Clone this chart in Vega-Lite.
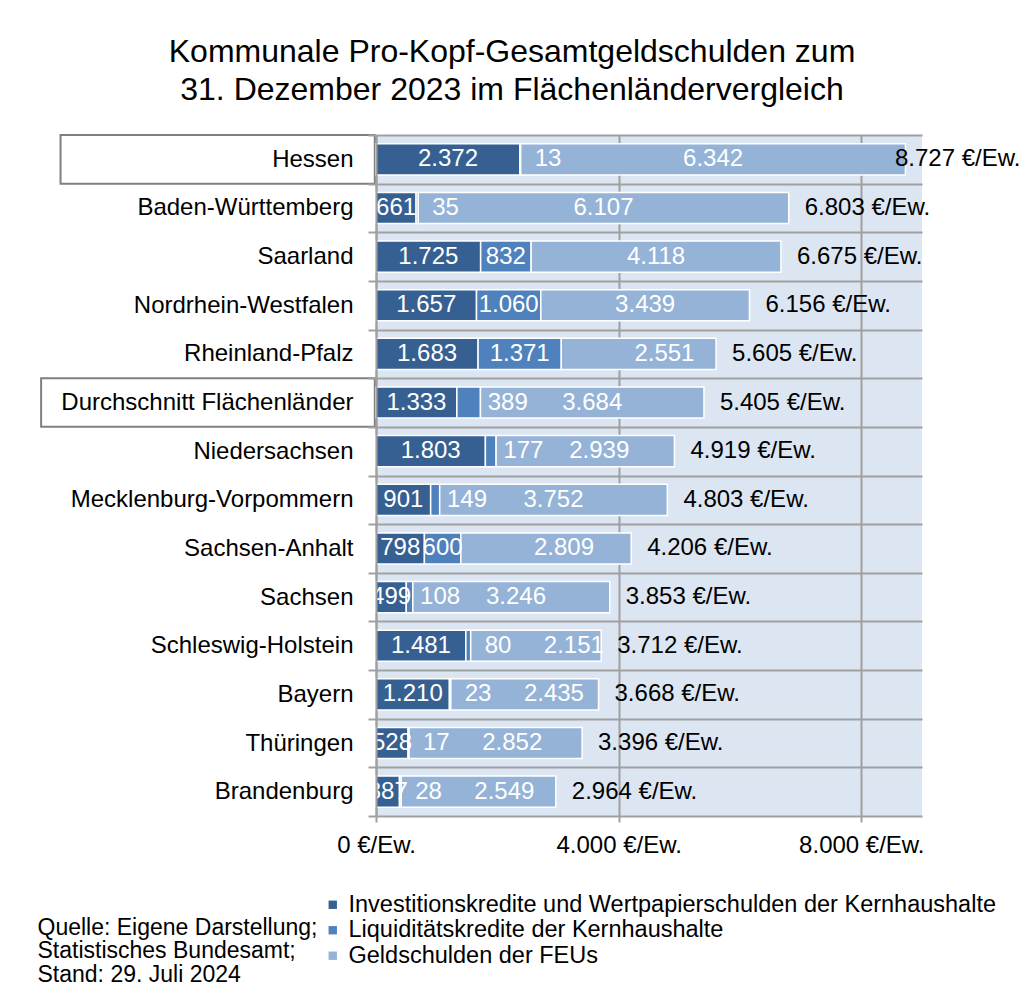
{
  "$schema": "https://vega.github.io/schema/vega-lite/v6.json",
  "width": 546,
  "height": 681,
  "autosize": {"type": "none"},
  "padding": {"left": 376, "top": 135, "right": 103, "bottom": 170},
  "background": "white",
  "title": {
    "text": ["Kommunale Pro-Kopf-Gesamtgeldschulden zum", "31. Dezember 2023 im Flächenländervergleich"],
    "anchor": "middle",
    "frame": "group",
    "dx": -137,
    "fontSize": 32,
    "font": "Liberation Sans",
    "fontWeight": "normal",
    "color": "black",
    "lineHeight": 38.5,
    "offset": 16
  },
  "datasets": {
    "schulden": [
      {"land": "Hessen", "invest": 2372, "liquid": 13, "feu": 6342, "gesamt": 8727},
      {"land": "Baden-Württemberg", "invest": 661, "liquid": 35, "feu": 6107, "gesamt": 6803},
      {"land": "Saarland", "invest": 1725, "liquid": 832, "feu": 4118, "gesamt": 6675},
      {"land": "Nordrhein-Westfalen", "invest": 1657, "liquid": 1060, "feu": 3439, "gesamt": 6156},
      {"land": "Rheinland-Pfalz", "invest": 1683, "liquid": 1371, "feu": 2551, "gesamt": 5605},
      {"land": "Durchschnitt Flächenländer", "invest": 1333, "liquid": 389, "feu": 3684, "gesamt": 5405},
      {"land": "Niedersachsen", "invest": 1803, "liquid": 177, "feu": 2939, "gesamt": 4919},
      {"land": "Mecklenburg-Vorpommern", "invest": 901, "liquid": 149, "feu": 3752, "gesamt": 4803},
      {"land": "Sachsen-Anhalt", "invest": 798, "liquid": 600, "feu": 2809, "gesamt": 4206},
      {"land": "Sachsen", "invest": 499, "liquid": 108, "feu": 3246, "gesamt": 3853},
      {"land": "Schleswig-Holstein", "invest": 1481, "liquid": 80, "feu": 2151, "gesamt": 3712},
      {"land": "Bayern", "invest": 1210, "liquid": 23, "feu": 2435, "gesamt": 3668},
      {"land": "Thüringen", "invest": 528, "liquid": 17, "feu": 2852, "gesamt": 3396},
      {"land": "Brandenburg", "invest": 387, "liquid": 28, "feu": 2549, "gesamt": 2964}
    ],
    "boxen": [
      {"land": "Hessen"},
      {"land": "Durchschnitt Flächenländer"}
    ]
  },
  "layer": [
    {
      "data": {"name": "boxen"},
      "transform": [
        {"calculate": "datum.land == 'Hessen' ? -5200 : -5520", "as": "xs"}
      ],
      "mark": {"type": "rect", "fill": "white", "fillOpacity": 0, "stroke": "#808080", "strokeWidth": 2},
      "encoding": {
        "y": {"field": "land", "type": "nominal", "sort": ["Hessen", "Baden-Württemberg", "Saarland", "Nordrhein-Westfalen", "Rheinland-Pfalz", "Durchschnitt Flächenländer", "Niedersachsen", "Mecklenburg-Vorpommern", "Sachsen-Anhalt", "Sachsen", "Schleswig-Holstein", "Bayern", "Thüringen", "Brandenburg"]},
        "x": {"field": "xs", "type": "quantitative", "scale": {"domain": [0, 9000], "nice": false, "zero": false}},
        "x2": {"datum": -20}
      }
    },
    {
      "data": {"name": "schulden"},
      "transform": [
        {"fold": ["invest", "liquid", "feu"], "as": ["typ", "wert"]},
        {"calculate": "indexof(['invest','liquid','feu'], datum.typ)", "as": "ord"},
        {"stack": "wert", "groupby": ["land"], "sort": [{"field": "ord", "order": "ascending"}], "as": ["x0", "x1"]}
      ],
      "mark": {"type": "bar", "height": {"band": 0.64}, "stroke": "white", "strokeWidth": 1.5},
      "encoding": {
        "y": {
          "field": "land", "type": "nominal",
          "sort": ["Hessen", "Baden-Württemberg", "Saarland", "Nordrhein-Westfalen", "Rheinland-Pfalz", "Durchschnitt Flächenländer", "Niedersachsen", "Mecklenburg-Vorpommern", "Sachsen-Anhalt", "Sachsen", "Schleswig-Holstein", "Bayern", "Thüringen", "Brandenburg"],
          "scale": {"paddingInner": 0, "paddingOuter": 0},
          "axis": {
            "title": null,
            "labelFontSize": 24,
            "labelFont": "Liberation Sans",
            "labelColor": "black",
            "labelLimit": 500,
            "labelPadding": 15,
            "tickBand": "extent",
            "tickSize": 8,
            "tickColor": "#a0a0a0",
            "tickWidth": 2,
            "domainColor": "#a0a0a0",
            "domainWidth": 2,
            "grid": true,
            "gridColor": "#a0a0a0",
            "gridWidth": 2
          }
        },
        "x": {
          "field": "x0", "type": "quantitative",
          "scale": {"domain": [0, 9000], "nice": false, "zero": false},
          "axis": {
            "values": [0, 4000, 8000],
            "labelExpr": "replace(format(datum.value, ','), ',', '.') + ' €/Ew.'",
            "labelFontSize": 24,
            "labelFont": "Liberation Sans",
            "labelColor": "black",
            "labelFlush": false,
            "labelOverlap": false,
            "labelPadding": 11,
            "tickSize": 6,
            "tickColor": "#a0a0a0",
            "tickWidth": 2,
            "domain": false,
            "grid": true,
            "gridColor": "#a0a0a0",
            "gridWidth": 2,
            "title": ["Quelle: Eigene Darstellung;", "Statistisches Bundesamt;", "Stand: 29. Juli 2024"],
            "titleX": -339,
            "titleY": 100,
            "titleAlign": "left",
            "titleAnchor": "start",
            "titleBaseline": "top",
            "titleFontSize": 23,
            "titleFontWeight": "normal",
            "titleFont": "Liberation Sans",
            "titleColor": "black",
            "titleLineHeight": 23.5
          }
        },
        "x2": {"field": "x1"},
        "color": {
          "field": "typ", "type": "nominal",
          "scale": {"domain": ["invest", "liquid", "feu"], "range": ["#376092", "#4f81bd", "#95b3d7"]},
          "legend": {
            "orient": "none",
            "legendX": -55,
            "legendY": 758,
            "title": null,
            "labelExpr": "datum.label == 'invest' ? 'Investitionskredite und Wertpapierschulden der Kernhaushalte' : datum.label == 'liquid' ? 'Liquiditätskredite der Kernhaushalte' : 'Geldschulden der FEUs'",
            "labelFontSize": 23.5,
            "labelFont": "Liberation Sans",
            "labelColor": "black",
            "labelLimit": 900,
            "labelOffset": 4,
            "symbolType": "square",
            "symbolSize": 70,
            "symbolStrokeWidth": 0,
            "rowPadding": 0.5
          }
        }
      }
    },
    {
      "data": {"name": "schulden"},
      "transform": [
        {"fold": ["invest", "liquid", "feu"], "as": ["typ", "wert"]},
        {"calculate": "indexof(['invest','liquid','feu'], datum.typ)", "as": "ord"},
        {"stack": "wert", "groupby": ["land"], "sort": [{"field": "ord", "order": "ascending"}], "as": ["x0", "x1"]},
        {"calculate": "datum.ord == 0 ? (datum.x0 + datum.x1) / 2 : datum.ord == 1 ? (datum.wert < 500 ? datum.x1 + 450 : (datum.x0 + datum.x1) / 2) : max((datum.x0 + datum.x1) / 2, datum.x0 + 1700)", "as": "lx"},
        {"calculate": "replace(format(datum.wert, ','), ',', '.')", "as": "lbl"}
      ],
      "mark": {"type": "text", "color": "white", "fontSize": 24, "font": "Liberation Sans", "align": "center", "baseline": "middle"},
      "encoding": {
        "y": {"field": "land", "type": "nominal", "sort": ["Hessen", "Baden-Württemberg", "Saarland", "Nordrhein-Westfalen", "Rheinland-Pfalz", "Durchschnitt Flächenländer", "Niedersachsen", "Mecklenburg-Vorpommern", "Sachsen-Anhalt", "Sachsen", "Schleswig-Holstein", "Bayern", "Thüringen", "Brandenburg"]},
        "x": {"field": "lx", "type": "quantitative"},
        "text": {"field": "lbl"}
      }
    },
    {
      "data": {"name": "schulden"},
      "transform": [
        {"calculate": "min(datum.gesamt, 8290)", "as": "lx"},
        {"calculate": "replace(format(datum.gesamt, ','), ',', '.') + ' €/Ew.'", "as": "lbl"}
      ],
      "mark": {"type": "text", "color": "black", "fontSize": 24, "font": "Liberation Sans", "align": "left", "baseline": "middle", "dx": 16},
      "encoding": {
        "y": {"field": "land", "type": "nominal", "sort": ["Hessen", "Baden-Württemberg", "Saarland", "Nordrhein-Westfalen", "Rheinland-Pfalz", "Durchschnitt Flächenländer", "Niedersachsen", "Mecklenburg-Vorpommern", "Sachsen-Anhalt", "Sachsen", "Schleswig-Holstein", "Bayern", "Thüringen", "Brandenburg"]},
        "x": {"field": "lx", "type": "quantitative"},
        "text": {"field": "lbl"}
      }
    }
  ],
  "config": {
    "font": "Liberation Sans",
    "view": {"fill": "#dce6f2", "stroke": null}
  }
}
